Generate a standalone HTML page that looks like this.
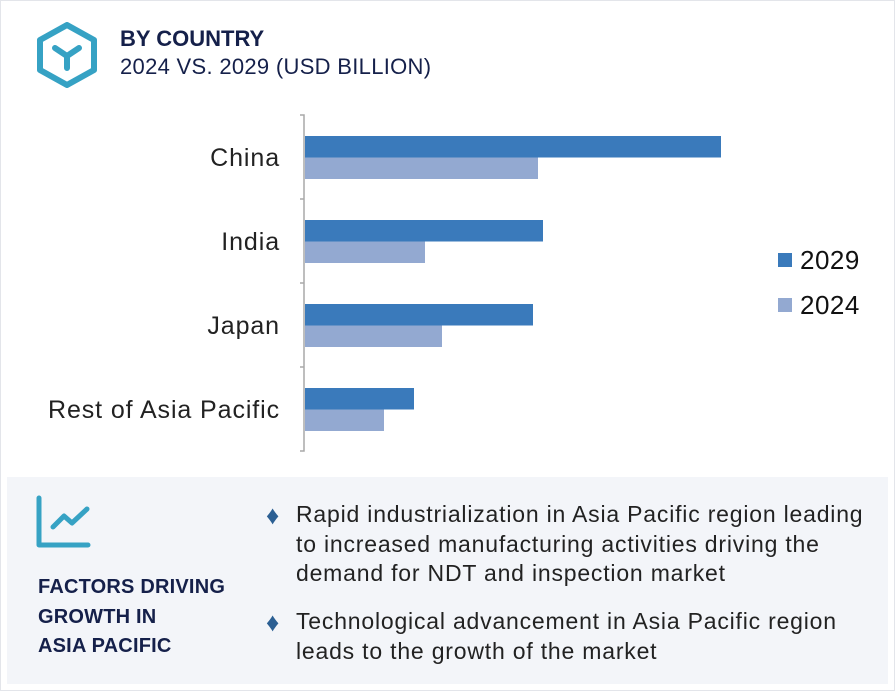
<!DOCTYPE html>
<html><head><meta charset="utf-8"><style>
body{margin:0;width:895px;height:691px;background:#fff;font-family:"Liberation Sans",sans-serif;overflow:hidden}
#frame{position:absolute;left:0;top:0;width:893px;height:689px;border:1px solid #e3e5ea}
.t{position:absolute;white-space:nowrap}
</style></head><body>
<div id="frame"></div>
<svg style="position:absolute;left:36px;top:22px" width="62" height="66" viewBox="0 0 62 66">
<polygon points="31,3 58,18 58,48 31,63 4,48 4,18" fill="none" stroke="#36a2c4" stroke-width="6" stroke-linejoin="round"/>
<path d="M19,26 L31,34 L43,26 M31,34 L31,46" fill="none" stroke="#36a2c4" stroke-width="6" stroke-linecap="round" stroke-linejoin="round"/>
</svg>
<div class="t" style="left:120px;top:26px;font-size:22px;font-weight:bold;color:#15204a">BY COUNTRY</div>
<div class="t" style="left:120px;top:54px;font-size:22px;color:#15204a;letter-spacing:0.3px">2024 VS. 2029 (USD BILLION)</div>
<svg id="chart" style="position:absolute;left:0;top:0" width="895" height="470"></svg>
<div style="position:absolute;left:7px;top:477px;width:881px;height:207px;background:#f3f5f9"></div>
<svg style="position:absolute;left:36px;top:495px" width="56" height="55">
<path d="M3,3 L3,50 L52,50" fill="none" stroke="#36a2c4" stroke-width="5" stroke-linecap="round" stroke-linejoin="round"/>
<path d="M17,32 L28,21 L36,28 L51,14" fill="none" stroke="#36a2c4" stroke-width="5" stroke-linecap="round" stroke-linejoin="round"/>
</svg>
<div class="t" style="left:38px;top:573px;font-size:20px;font-weight:bold;color:#15204a;line-height:29.5px;letter-spacing:0.2px">FACTORS DRIVING<br>GROWTH IN<br>ASIA PACIFIC</div>
<div class="t" style="left:266px;top:500px;font-size:26px;color:#2b5f93">♦</div>
<div class="t" style="left:296px;top:500px;font-size:23px;color:#222;line-height:29.5px;letter-spacing:0.8px">Rapid industrialization in Asia Pacific region leading<br>to increased manufacturing activities driving the<br>demand for NDT and inspection market</div>
<div class="t" style="left:266px;top:607px;font-size:26px;color:#2b5f93">♦</div>
<div class="t" style="left:296px;top:607px;font-size:23px;color:#222;line-height:29.5px;letter-spacing:0.8px">Technological advancement in Asia Pacific region<br>leads to the growth of the market</div>
<script>
const categories=["China","India","Japan","Rest of Asia Pacific"];
const series2029=[4.16,2.38,2.28,1.09];
const series2024=[2.33,1.20,1.37,0.79];
const seriesNames=["2029","2024"];
const svg=document.getElementById('chart');
const NS='http://www.w3.org/2000/svg';
const x0=305,pxPerUnit=100,top0=115,band=84;
const xs=v=>x0+v*pxPerUnit;
const yb=i=>top0+i*band;
function mk(t,a){const e=document.createElementNS(NS,t);for(const k in a)e.setAttribute(k,a[k]);svg.appendChild(e);return e;}
const ax=mk('path',{d:`M300,${top0} H304 V${top0+band*categories.length} H300`,fill:'none',stroke:'#a8a8a8','stroke-width':1.5});


for(let i=1;i<categories.length;i++){const tk=mk('line',{x1:300,x2:304,y1:yb(i),y2:yb(i),stroke:'#a8a8a8','stroke-width':1.5});

}
categories.forEach((c,i)=>{
 const lb=mk('text',{x:280,y:yb(i)+51,'text-anchor':'end','font-size':25,'letter-spacing':0.9,fill:'#222','font-family':'Liberation Sans, sans-serif'});lb.textContent=c;
 
 
 const b1=mk('rect',{x:x0,y:yb(i)+21,width:xs(series2029[i])-x0,height:21.5,fill:'#3a7abb'});
 
 
 const b2=mk('rect',{x:x0,y:yb(i)+42.5,width:xs(series2024[i])-x0,height:21.5,fill:'#93a9d1'});
 
 
});
const colors=['#3a7abb','#93a9d1'];
seriesNames.forEach((s,i)=>{
 const r=mk('rect',{x:778,y:253+i*45,width:14,height:14,fill:colors[i]});
 
 
 const t=mk('text',{x:800,y:269+i*45,'font-size':26,'letter-spacing':0.5,fill:'#111','font-family':'Liberation Sans, sans-serif'});t.textContent=s;
 
 
});
</script>
</body></html>
